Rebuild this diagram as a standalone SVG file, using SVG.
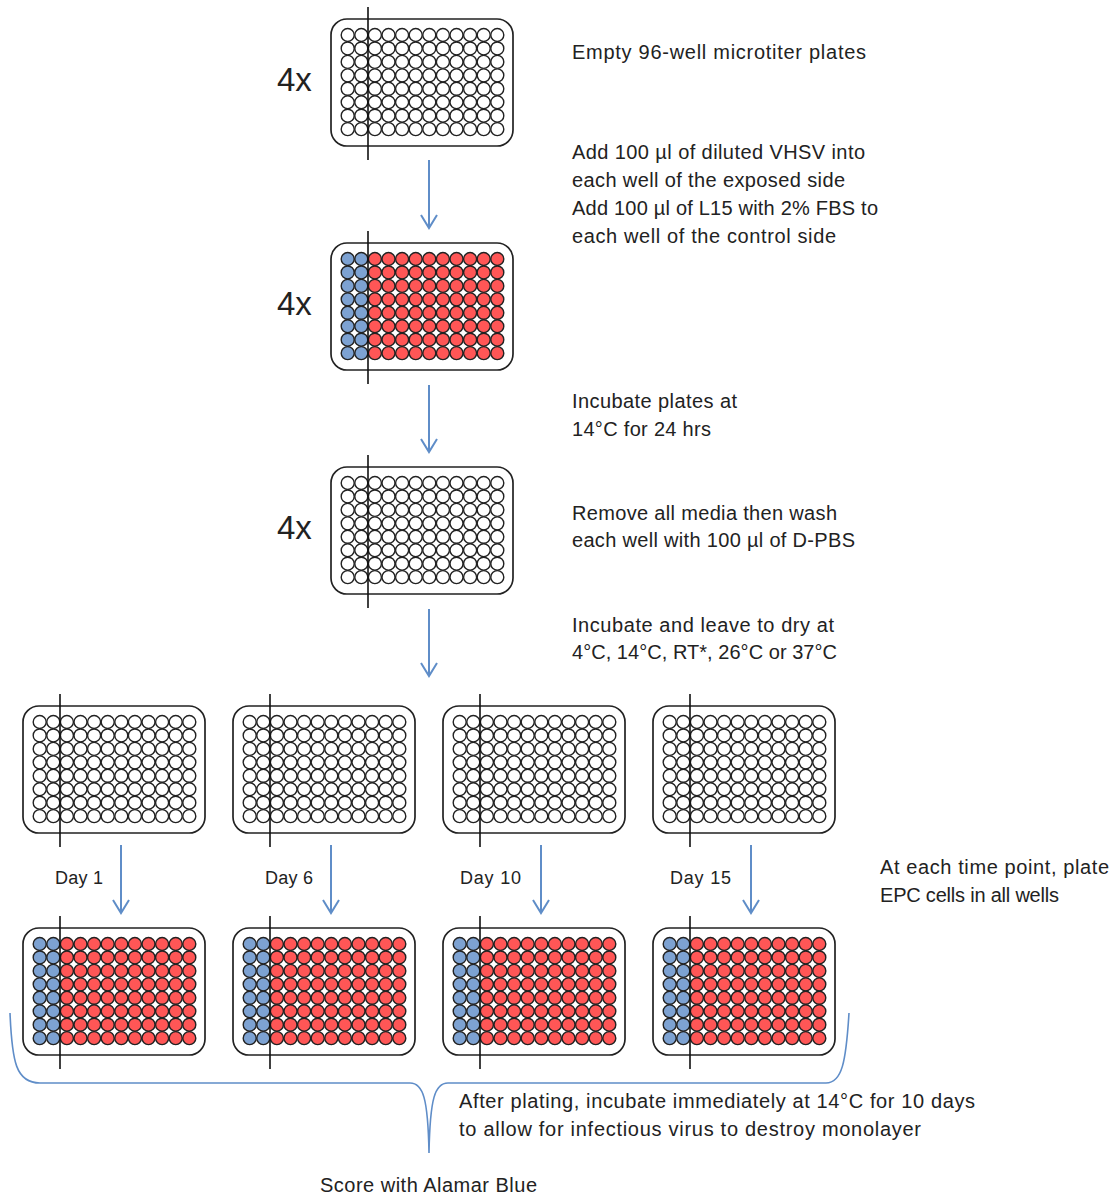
<svg xmlns="http://www.w3.org/2000/svg" xmlns:xlink="http://www.w3.org/1999/xlink" width="1116" height="1197" viewBox="0 0 1116 1197">
<style>
.plate{fill:#fff;stroke:#222;stroke-width:1.7}
.div{stroke:#111;stroke-width:1.6}
.w{stroke:#222;stroke-width:1.4;fill:#fff}
.b{fill:#7DA2D2}
.r{fill:#FF5656}
.arrow{stroke:#5F8DC8;stroke-width:2;fill:none}
.brace{stroke:#5F8DC8;stroke-width:1.6;fill:none}
.t{font-family:"Liberation Sans",Arial,sans-serif;font-size:20px;fill:#222}
.d{font-family:"Liberation Sans",Arial,sans-serif;font-size:18px;fill:#222}
.n{font-family:"Liberation Sans",Arial,sans-serif;font-size:33px;fill:#222}
</style>
<defs>
<marker id="ah" markerUnits="userSpaceOnUse" markerWidth="20" markerHeight="20" refX="0" refY="0" orient="auto" overflow="visible">
<path d="M-13,-8 L0,0 L-13,8" fill="none" stroke="#5F8DC8" stroke-width="2"/>
</marker>
<g id="rowE">
<circle class="w" cx="16.7" cy="0" r="6.5"/><circle class="w" cx="30.3" cy="0" r="6.5"/><circle class="w" cx="43.9" cy="0" r="6.5"/><circle class="w" cx="57.5" cy="0" r="6.5"/><circle class="w" cx="71.1" cy="0" r="6.5"/><circle class="w" cx="84.7" cy="0" r="6.5"/><circle class="w" cx="98.3" cy="0" r="6.5"/><circle class="w" cx="111.9" cy="0" r="6.5"/><circle class="w" cx="125.5" cy="0" r="6.5"/><circle class="w" cx="139.1" cy="0" r="6.5"/><circle class="w" cx="152.7" cy="0" r="6.5"/><circle class="w" cx="166.3" cy="0" r="6.5"/>
</g>
<g id="rowC">
<circle class="w b" cx="16.7" cy="0" r="6.5"/><circle class="w b" cx="30.3" cy="0" r="6.5"/><circle class="w r" cx="43.9" cy="0" r="6.5"/><circle class="w r" cx="57.5" cy="0" r="6.5"/><circle class="w r" cx="71.1" cy="0" r="6.5"/><circle class="w r" cx="84.7" cy="0" r="6.5"/><circle class="w r" cx="98.3" cy="0" r="6.5"/><circle class="w r" cx="111.9" cy="0" r="6.5"/><circle class="w r" cx="125.5" cy="0" r="6.5"/><circle class="w r" cx="139.1" cy="0" r="6.5"/><circle class="w r" cx="152.7" cy="0" r="6.5"/><circle class="w r" cx="166.3" cy="0" r="6.5"/>
</g>
<g id="plateE">
<rect class="plate" x="0" y="0" width="182" height="127" rx="16"/>
<use xlink:href="#rowE" y="16"/><use xlink:href="#rowE" y="29.45"/><use xlink:href="#rowE" y="42.9"/><use xlink:href="#rowE" y="56.35"/><use xlink:href="#rowE" y="69.8"/><use xlink:href="#rowE" y="83.25"/><use xlink:href="#rowE" y="96.7"/><use xlink:href="#rowE" y="110.15"/>
<line class="div" x1="37" y1="-12" x2="37" y2="141"/>
</g>
<g id="plateC">
<rect class="plate" x="0" y="0" width="182" height="127" rx="16"/>
<use xlink:href="#rowC" y="16"/><use xlink:href="#rowC" y="29.45"/><use xlink:href="#rowC" y="42.9"/><use xlink:href="#rowC" y="56.35"/><use xlink:href="#rowC" y="69.8"/><use xlink:href="#rowC" y="83.25"/><use xlink:href="#rowC" y="96.7"/><use xlink:href="#rowC" y="110.15"/>
<line class="div" x1="37" y1="-12" x2="37" y2="141"/>
</g>
</defs>
<rect width="1116" height="1197" fill="#fff"/>

<g id="step1"><use xlink:href="#plateE" x="331" y="19"/><text class="n" x="277" y="91">4x</text></g>
<g id="step2"><use xlink:href="#plateC" x="331" y="243"/><text class="n" x="277" y="315">4x</text></g>
<g id="step3"><use xlink:href="#plateE" x="331" y="467"/><text class="n" x="277" y="539">4x</text></g>

<g id="dry1"><use xlink:href="#plateE" x="23" y="706"/></g>
<g id="dry6"><use xlink:href="#plateE" x="233" y="706"/></g>
<g id="dry10"><use xlink:href="#plateE" x="443" y="706"/></g>
<g id="dry15"><use xlink:href="#plateE" x="653" y="706"/></g>

<g id="plated1"><use xlink:href="#plateC" x="23" y="928"/></g>
<g id="plated6"><use xlink:href="#plateC" x="233" y="928"/></g>
<g id="plated10"><use xlink:href="#plateC" x="443" y="928"/></g>
<g id="plated15"><use xlink:href="#plateC" x="653" y="928"/></g>

<g id="connectors">
<line class="arrow" x1="429" y1="160" x2="429" y2="228" marker-end="url(#ah)"/>
<line class="arrow" x1="429" y1="385" x2="429" y2="452" marker-end="url(#ah)"/>
<line class="arrow" x1="429" y1="609" x2="429" y2="676" marker-end="url(#ah)"/>
<line class="arrow" x1="121" y1="845" x2="121" y2="913" marker-end="url(#ah)"/>
<line class="arrow" x1="331" y1="845" x2="331" y2="913" marker-end="url(#ah)"/>
<line class="arrow" x1="541" y1="845" x2="541" y2="913" marker-end="url(#ah)"/>
<line class="arrow" x1="751" y1="845" x2="751" y2="913" marker-end="url(#ah)"/>
<path class="brace" d="M10,1013 C12,1062 16,1083 40,1083 L410,1083 C423,1083 428,1098 429,1153 C430,1098 435,1083 448,1083 L826,1083 C842,1083 846,1062 849,1013"/>
</g>

<g id="labels">
<text class="t" x="572" y="59" textLength="294">Empty 96-well microtiter plates</text>
<text class="t" x="572" y="159" textLength="293">Add 100 µl of diluted VHSV into</text>
<text class="t" x="572" y="187" textLength="273">each well of the exposed side</text>
<text class="t" x="572" y="215" textLength="306">Add 100 µl of L15 with 2% FBS to</text>
<text class="t" x="572" y="243" textLength="264">each well of the control side</text>
<text class="t" x="572" y="408" textLength="165">Incubate plates at</text>
<text class="t" x="572" y="436" textLength="139">14°C for 24 hrs</text>
<text class="t" x="572" y="520" textLength="265">Remove all media then wash</text>
<text class="t" x="572" y="547" textLength="283">each well with 100 µl of D-PBS</text>
<text class="t" x="572" y="632" textLength="262">Incubate and leave to dry at</text>
<text class="t" x="572" y="659" textLength="265">4°C, 14°C, RT*, 26°C or 37°C</text>
<text class="t" x="880" y="874" textLength="229">At each time point, plate</text>
<text class="t" x="880" y="902" textLength="179">EPC cells in all wells</text>
<text class="t" x="459" y="1108" textLength="516">After plating, incubate immediately at 14°C for 10 days</text>
<text class="t" x="459" y="1136" textLength="462">to allow for infectious virus to destroy monolayer</text>
<text class="t" x="320" y="1192" textLength="217">Score with Alamar Blue</text>
<text class="d" x="55" y="884" textLength="48">Day 1</text>
<text class="d" x="265" y="884" textLength="48">Day 6</text>
<text class="d" x="460" y="884" textLength="61">Day 10</text>
<text class="d" x="670" y="884" textLength="61">Day 15</text>
</g>
</svg>
